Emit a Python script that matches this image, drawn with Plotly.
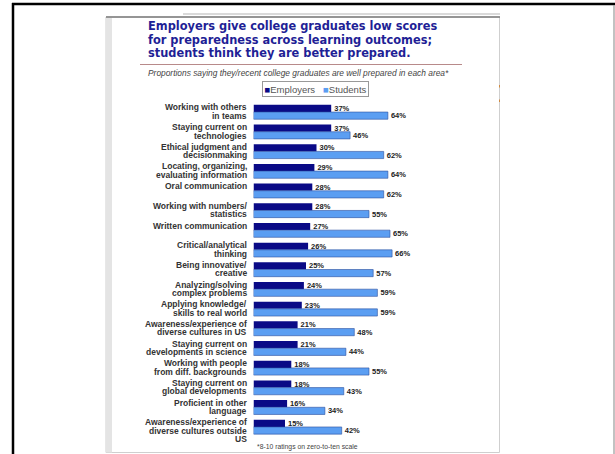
import plotly.graph_objects as go

# ---- data ----
categories = [
    "Working with others<br>in teams",
    "Staying current on<br>technologies",
    "Ethical judgment and<br>decisionmaking",
    "Locating, organizing,<br>evaluating information",
    "Oral communication",
    "Working with numbers/<br>statistics",
    "Written communication",
    "Critical/analytical<br>thinking",
    "Being innovative/<br>creative",
    "Analyzing/solving<br>complex problems",
    "Applying knowledge/<br>skills to real world",
    "Awareness/experience of<br>diverse cultures in US",
    "Staying current on<br>developments in science",
    "Working with people<br>from diff. backgrounds",
    "Staying current on<br>global developments",
    "Proficient in other<br>language",
    "Awareness/experience of<br>diverse cultures outside<br>US",
]
employers = [37, 37, 30, 29, 28, 28, 27, 26, 25, 24, 23, 21, 21, 18, 18, 16, 15]
students = [64, 46, 62, 64, 62, 55, 65, 66, 57, 59, 59, 48, 44, 55, 43, 34, 42]

title_lines = [
    "Employers give college graduates low scores",
    "for preparedness across learning outcomes;",
    "students think they are better prepared.",
]
subtitle_text = "Proportions saying they/recent college graduates are well prepared in each area*"
footnote_text = "*8-10 ratings on zero-to-ten scale"

# ---- geometry helpers (pixel -> paper) ----
W, H = 615, 454
def px(x):
    return x / W
def py(y):
    return 1 - y / H

DARK = "#0a0a86"
LIGHT = "#5b9ef2"
x0_px, x1_px, scale = 253.5, 480.0, 2.1
y_top, y_bot = 102.2, 436.8

fig = go.Figure()
fig.add_trace(go.Bar(
    y=categories, x=employers, orientation="h", name="Employers",
    marker=dict(color=DARK, line=dict(width=0)),
    text=[f"{v}%" for v in employers], textposition="outside",
    constraintext="none", cliponaxis=False,
    textfont=dict(family="Liberation Sans", size=7.5, color="#222", weight="bold"),
))
fig.add_trace(go.Bar(
    y=categories, x=students, orientation="h", name="Students",
    marker=dict(color=LIGHT, line=dict(width=0.6, color="#2b4f9e")),
    text=[f"{v}%" for v in students], textposition="outside",
    constraintext="none", cliponaxis=False,
    textfont=dict(family="Liberation Sans", size=7.5, color="#222", weight="bold"),
))

annotations = []
# category labels, one annotation per line for tight line spacing
for cat in categories:
    lines = cat.split("<br>")
    for i, ln in enumerate(lines):
        annotations.append(dict(
            x=px(248.5), xref="paper", xanchor="right",
            y=cat, yref="y", yanchor="middle",
            yshift=4.6 - 8.4 * i,
            text=ln, showarrow=False,
            font=dict(family="Liberation Sans", size=8.5, color="#333", weight="bold"),
        ))

# title, one annotation per line
for i, ln in enumerate(title_lines):
    annotations.append(dict(
        x=px(146), y=py(26.5 + 13.5 * i), xref="paper", yref="paper",
        xanchor="left", yanchor="middle",
        text=ln, showarrow=False, align="left",
        font=dict(family="DejaVu Sans", size=11.4, color="#1f1f96", weight="bold"),
    ))
# subtitle
annotations.append(dict(
    x=px(298), y=py(73), xref="paper", yref="paper", xanchor="center", yanchor="middle",
    text=subtitle_text, showarrow=False,
    font=dict(family="Liberation Sans", size=8.4, color="#444", style="italic"),
))
# legend box
annotations.append(dict(
    x=px(315), y=py(88.5), xref="paper", yref="paper", xanchor="center", yanchor="middle",
    text=(f"<span style='color:{DARK}'>■</span>Employers   "
          f"<span style='color:{LIGHT}'>■</span>Students"),
    showarrow=False, bordercolor="#999", borderwidth=1, borderpad=1.5, bgcolor="white",
    font=dict(family="Liberation Sans", size=9.5, color="#555"),
))
# footnote
annotations.append(dict(
    x=px(255), y=py(447), xref="paper", yref="paper", xanchor="left", yanchor="middle",
    text=footnote_text, showarrow=False,
    font=dict(family="Liberation Sans", size=6.8, color="#444"),
))

shapes = [
    # slide frame
    dict(type="rect", xref="paper", yref="paper", x0=px(106), x1=px(499.5), y0=py(452.5), y1=py(17),
         line=dict(color="#cfcfcf", width=1), fillcolor="rgba(0,0,0,0)", layer="below"),
    dict(type="rect", xref="paper", yref="paper", x0=px(106), x1=px(112), y0=py(452.5), y1=py(17),
         line=dict(width=0), fillcolor="#e4e4e4", layer="below"),
    dict(type="line", xref="paper", yref="paper", x0=px(106), x1=px(500), y0=py(17), y1=py(17),
         line=dict(color="#7a7a7a", width=1.5)),
    dict(type="line", xref="paper", yref="paper", x0=px(183), x1=px(500), y0=py(14), y1=py(14),
         line=dict(color="#b5b5b5", width=1)),
    # rule under title
    dict(type="line", xref="paper", yref="paper", x0=px(140), x1=px(462), y0=py(64.5), y1=py(64.5),
         line=dict(color="#b88a8a", width=1.2)),
    # small orange ticks
    dict(type="line", xref="paper", yref="paper", x0=px(499.5), x1=px(499.5), y0=py(85), y1=py(87.5),
         line=dict(color="#d08a40", width=1)),
    dict(type="line", xref="paper", yref="paper", x0=px(499.5), x1=px(499.5), y0=py(99.5), y1=py(102),
         line=dict(color="#d08a40", width=1)),
    # outer screenshot border
    dict(type="line", xref="paper", yref="paper", x0=px(12), x1=px(615), y0=py(4), y1=py(4),
         line=dict(color="black", width=2.5)),
    dict(type="line", xref="paper", yref="paper", x0=px(13), x1=px(13), y0=py(3), y1=py(454),
         line=dict(color="black", width=2.5)),
    dict(type="line", xref="paper", yref="paper", x0=px(614), x1=px(614), y0=py(5), y1=py(454),
         line=dict(color="#999", width=1.2)),
]

fig.update_layout(
    width=W, height=H,
    margin=dict(l=0, r=0, t=0, b=0),
    paper_bgcolor="white", plot_bgcolor="white",
    barmode="group", bargap=0.27, bargroupgap=0,
    showlegend=False,
    xaxis=dict(domain=[px(x0_px), px(x1_px)], range=[0, (x1_px - x0_px) / scale],
               showgrid=False, zeroline=False, showticklabels=False, showline=False, fixedrange=True),
    yaxis=dict(domain=[py(y_bot), py(y_top)], categoryorder="array", categoryarray=categories,
               range=[len(categories) - 0.5, -0.5],
               showgrid=False, zeroline=False, showticklabels=False, showline=False, fixedrange=True),
    annotations=annotations,
    shapes=shapes,
)

fig.write_html("out.html", config={"displayModeBar": False})
